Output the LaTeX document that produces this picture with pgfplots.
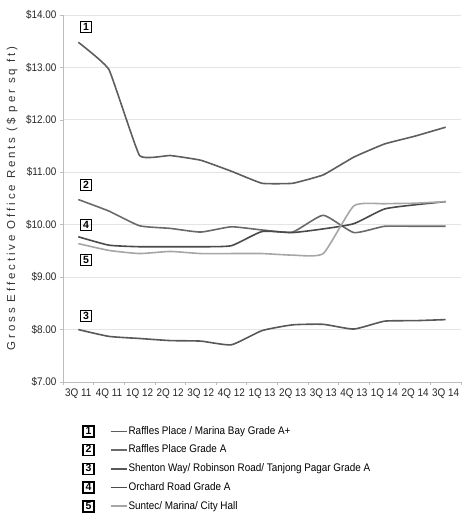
\documentclass[border=0pt]{standalone}
\usepackage{fontspec}
\setmainfont{Liberation Sans}
\newfontfamily\narrow[FakeStretch=0.9]{Liberation Sans}
\newfontfamily\spaced[LetterSpace=25]{Liberation Sans}
\newfontfamily\boxfont{Liberation Sans Bold}
\usepackage{pgfplots}
\pgfplotsset{compat=1.18}
\definecolor{c1}{HTML}{5E5E5E}
\definecolor{c2}{HTML}{6A6A6A}
\definecolor{c3}{HTML}{585858}
\definecolor{c4}{HTML}{4A4A4A}
\definecolor{c5}{HTML}{A6A6A6}
\definecolor{gridc}{HTML}{E4E4E4}
\definecolor{axc}{HTML}{BDBDBD}
\tikzset{numbox/.style={draw=black, text=black, line width=1.5pt, inner sep=0pt, minimum size=11pt, font=\boxfont\fontsize{10.5}{10.5}\selectfont}}
\pgfplotsset{
  leg/.style 2 args={legend image code/.code={\node[numbox] at (-28.5pt,0pt) {#1}; \draw[line width=1.8pt, #2] (0pt,0pt) -- (16pt,0pt);}},
}
\pgfplotstableread{
x s1 s2 s3 s4 s5
0 13.48 10.48 8.00 9.77 9.64
1 12.96 10.26 7.87 9.61 9.51
2 11.32 9.98 7.83 9.58 9.45
3 11.32 9.93 7.79 9.58 9.49
4 11.23 9.86 7.78 9.58 9.45
5 11.02 9.96 7.71 9.60 9.45
6 10.79 9.90 7.98 9.87 9.45
7 10.79 9.86 8.09 9.85 9.42
8 10.95 10.18 8.10 9.92 9.45
9 11.29 9.85 8.01 10.02 10.36
10 11.54 9.97 8.16 10.30 10.40
11 11.69 9.97 8.17 10.38 10.41
12 11.86 9.97 8.19 10.44 10.44
}\data
\begin{document}
\begin{tikzpicture}
\begin{axis}[name=ax, at={(0,0)}, anchor=south west,
  scale only axis, width=398pt, height=367pt,
  xmin=-0.5, xmax=12.5, ymin=7, ymax=14,
  axis x line*=bottom, axis y line*=left,
  axis line style={axc, line width=0.8pt},
  xtick={-0.5,0.5,...,12.5},
  x tick label as interval,
  xticklabels={3Q 11,4Q 11,1Q 12,2Q 12,3Q 12,4Q 12,1Q 13,2Q 13,3Q 13,4Q 13,1Q 14,2Q 14,3Q 14},
  ytick={7,8,...,14},
  yticklabels={\$7.00,\$8.00,\$9.00,\$10.00,\$11.00,\$12.00,\$13.00,\$14.00},
  tick align=outside, major tick length=3pt,
  tick style={axc, line width=0.6pt},
  ymajorgrids, grid style={gridc, line width=0.8pt},
  ticklabel style={font=\narrow\fontsize{11}{12}\selectfont, text=black!85},
  ylabel={\spaced\fontsize{11.5}{12}\selectfont Gross Effective Office Rents (\$ per sq ft)},
  ylabel style={at={(axis description cs:-0.128,0.5)}, anchor=center, text=black!80},
  legend style={at={(axis description cs:0,0)}, anchor=north west, xshift=19pt, yshift=-43pt,
    draw=none, fill=none, inner sep=0pt, row sep=6.2pt, column sep=0pt,
    font=\narrow\fontsize{11}{12}\selectfont,
    nodes={inner sep=1pt, text height=8pt, text depth=2.5pt}},
  legend cell align=left,
  clip=false,
]
\addplot[c1, line width=1.6pt, smooth, tension=0.2, leg={1}{c1}] table[x=x,y=s1]{\data};
\addlegendentry{Raffles Place / Marina Bay Grade A+}
\addplot[c2, line width=1.6pt, smooth, tension=0.3, leg={2}{c2}] table[x=x,y=s2]{\data};
\addlegendentry{Raffles Place Grade A}
\addplot[c3, line width=1.6pt, smooth, tension=0.3, leg={3}{c3}] table[x=x,y=s3]{\data};
\addlegendentry{Shenton Way/ Robinson Road/ Tanjong Pagar Grade A}
\addplot[c4, line width=1.6pt, smooth, tension=0.3, leg={4}{c4}] table[x=x,y=s4]{\data};
\addlegendentry{Orchard Road Grade A}
\addplot[c5, line width=1.6pt, smooth, tension=0.3, leg={5}{c5}] table[x=x,y=s5]{\data};
\addlegendentry{Suntec/ Marina/ City Hall}
\node[numbox] at (axis cs:0.25,13.77) {1};
\node[numbox] at (axis cs:0.25,10.76) {2};
\node[numbox] at (axis cs:0.25,8.26) {3};
\node[numbox] at (axis cs:0.25,9.99) {4};
\node[numbox] at (axis cs:0.25,9.33) {5};
\end{axis}
\pgfresetboundingbox
\path (ax.south west) ++(-63pt,-144pt) rectangle ++(461pt,526pt);
\end{tikzpicture}
\end{document}
